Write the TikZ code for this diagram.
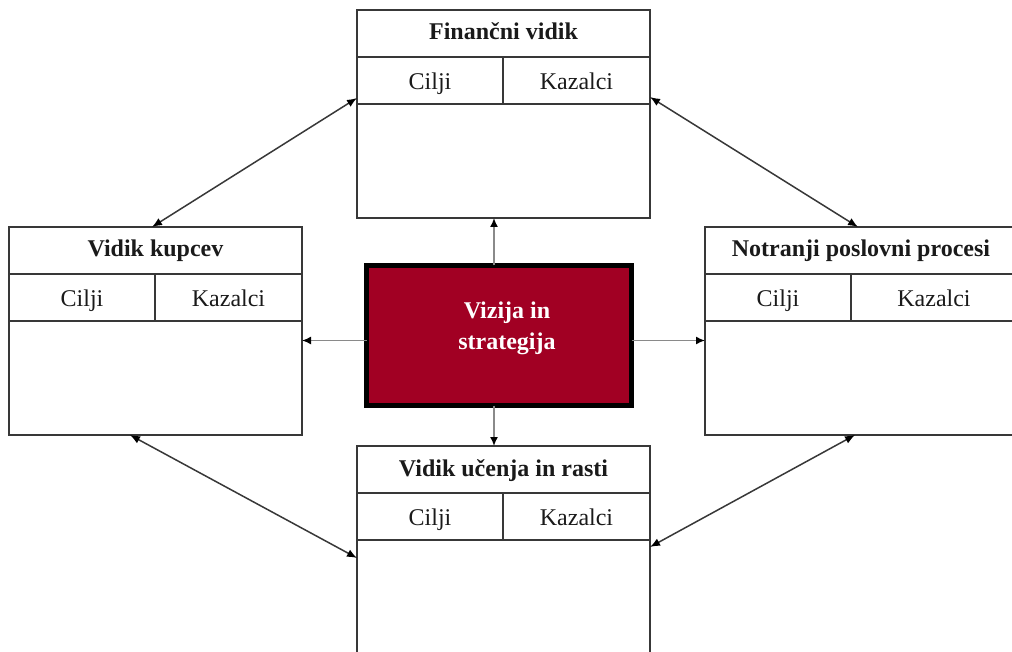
\documentclass[tikz,border=0pt]{standalone}
\usepackage{fontspec}
\setmainfont{Liberation Serif}
\usetikzlibrary{arrows.meta,calc}

\definecolor{visionred}{HTML}{A10023}
\definecolor{frame}{HTML}{383838}
\definecolor{spoke}{HTML}{8A8A8A}
\definecolor{ink}{HTML}{1A1A1A}

\tikzset{
  cell/.style={draw=frame, line width=1.3pt, inner sep=0pt, outer sep=0pt,
    anchor=north west, minimum height=47pt, text height=20pt, text depth=2pt,
    text=ink, font=\fontsize{24}{28}\selectfont},
  titlecell/.style={cell, minimum width=#1, text height=17.5pt, text depth=4.5pt,
    font=\fontsize{24}{28}\selectfont\bfseries},
  bodycell/.style={cell, minimum width=#1, minimum height=114pt},
  visionbox/.style={draw=black, line width=5pt, fill=visionred, anchor=north west,
    outer sep=0pt, minimum width=265pt, minimum height=140pt, inner sep=0pt},
  visionlabel/.style={text=white, align=center, font=\fontsize{24}{31}\selectfont\bfseries},
  spokearrow/.style={draw=spoke, line width=1.6pt,
    -{Latex[length=9pt,width=8pt,color=black]}},
  linkarrow/.style={draw=frame, line width=1.5pt,
    {Latex[length=10pt,width=8pt,color=black]}-{Latex[length=10pt,width=8pt,color=black]}}
}

% One perspective: title row, Cilji / Kazalci row, empty body
% #1 name, #2 north-west corner, #3 total width, #4 Kazalci width, #5 title
\newcommand\perspective[5]{%
  \node[titlecell=#3pt] (#1t) at #2 {#5};
  \node[cell, minimum width=146pt] (#1c) at (#1t.south west) {Cilji};
  \node[cell, minimum width=#4pt] (#1k) at (#1c.north east) {Kazalci};
  \node[bodycell=#3pt] (#1b) at (#1c.south west) {};
}

\begin{document}
\begin{tikzpicture}[x=1pt,y=-1pt]
  \useasboundingbox (0,0) rectangle (1012,652);
  \clip (0,0) rectangle (1012,652);

  \perspective{fin}{(357,10)}{293}{147}{Finančni vidik}
  \perspective{kup}{(9,227)}{293}{147}{Vidik kupcev}
  \perspective{not}{(705,227)}{312}{166}{Notranji poslovni procesi}
  \perspective{uc}{(357,446)}{293}{147}{Vidik učenja in rasti}

  % central box
  \node[visionbox] (vision) at (366.5,265.5) {};
  \node[visionlabel] (visiontext) at (507,328) {Vizija in\\strategija};

  % spokes from the centre
  \draw[spokearrow] ([xshift=-5pt]vision.north) -- ([xshift=-5pt]vision.north |- finb.south);
  \draw[spokearrow] ([xshift=-5pt]vision.south) -- ([xshift=-5pt]vision.south |- uct.north);
  \draw[spokearrow] ([yshift=-5pt]vision.west) -- ([yshift=-5pt]vision.west -| kupb.east);
  \draw[spokearrow] ([yshift=-5pt]vision.east) -- ([yshift=-5pt]vision.east -| notb.west);

  % links between neighbouring perspectives
  \draw[linkarrow] ([xshift=143pt]kupt.north west) -- ([yshift=-88pt]fint.north west);
  \draw[linkarrow] ([yshift=-87pt]fint.north east) -- ([xshift=153pt]nott.north west);
  \draw[linkarrow] ([xshift=121pt]kupb.south west) -- ([yshift=-112pt]uct.north west);
  \draw[linkarrow] ([yshift=-101pt]uct.north east) -- ([xshift=150pt]notb.south west);
\end{tikzpicture}
\end{document}
